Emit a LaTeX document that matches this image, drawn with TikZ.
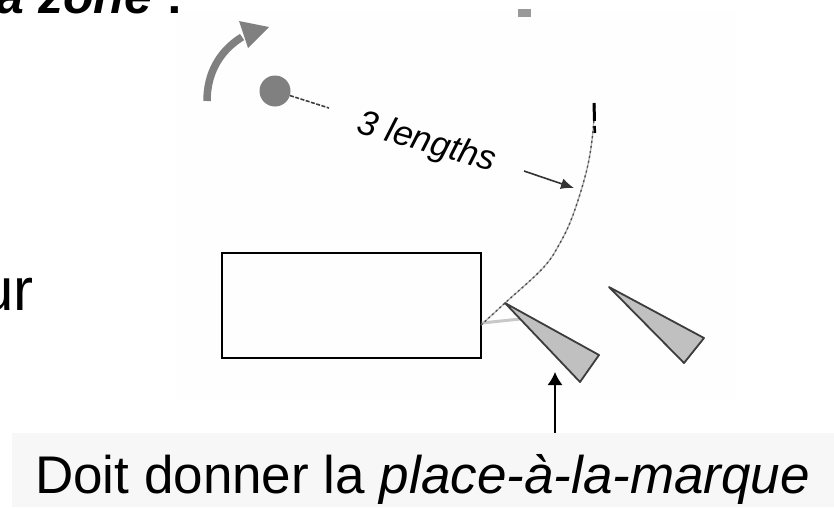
\documentclass[tikz,border=0pt]{standalone}
\usepackage{fontspec}
\setmainfont{Liberation Sans}
\usetikzlibrary{arrows.meta}
\definecolor{bgimg}{HTML}{FEFEFE}
\definecolor{bglabel}{HTML}{F7F7F7}
\definecolor{midgray}{HTML}{808080}
\definecolor{trifill}{HTML}{C0C0C0}
\definecolor{triedge}{HTML}{3C3C3C}
\definecolor{lightline}{HTML}{C8C8C8}
\tikzset{
  wedge/.style={fill=trifill, draw=triedge, line width=1.8pt, line join=round},
  bigtext/.style={inner sep=0pt, font=\fontsize{53}{60}\selectfont},
  bullettext/.style={inner sep=0pt, font=\fontsize{60}{66}\selectfont},
  headtext/.style={inner sep=0pt, font=\fontsize{50}{56}\selectfont},
  pointer/.style={-{Latex[length=13pt,width=15pt]}, line width=1.5pt, black},
}
\begin{document}
\begin{tikzpicture}[x=1pt,y=-1pt]
\useasboundingbox (0,0) rectangle (834,507);
\clip (0,0) rectangle (834,507);
% image area
\fill[bgimg] (177,10) rectangle (737,401);
% label band
\fill[bglabel] (12,433) rectangle (834,507);

% left column text fragments
\node[headtext, anchor=base east] (zone) at (183,13) {\textbf{\textit{a zone} :}};
\node[bullettext, anchor=base east] (ur) at (34,310) {ur};

% curved gray arrow
\draw[midgray, line width=7.5pt] (207,101) .. controls (207,75) and (218,52) .. (242,37);
\fill[midgray] (239,21) -- (269,27) -- (248,48) -- cycle;

% center dot
\node[circle, fill=midgray, minimum size=31pt, inner sep=0pt] (dot) at (275,91) {};
\draw[black!75, line width=1.6pt, dash pattern=on 4pt off 1.5pt] (dot.-17) -- (329,108);

% small gray mark at top
\fill[gray!80] (518,9) rectangle (531,17);

% "3 lengths"
\node[inner sep=0pt, anchor=base, rotate=-16, font=\fontsize{35}{40}\selectfont\itshape] (len) at (424,152) {3 lengths};
\coordinate (la) at (524,171);
\coordinate (lb) at (574,188);
\draw[black!80, line width=1.6pt, -{Latex[length=13pt,width=11pt]}] (la) -- (lb);

% rectangle
\node[draw=black, line width=1.4pt, minimum width=259pt, minimum height=105pt, inner sep=0pt] (box) at (351.5,305.5) {};

% light rope line
\draw[lightline, line width=3pt] (box.east |- 0,323) -- (520,319);

% arc
\draw[gray!60, line width=1.3pt] plot[smooth, tension=0.6] coordinates {(481,325) (505,303) (543,268) (560,243) (573,215) (586,173) (592,140) (595,104)};
\draw[black!70, line width=1.3pt, dash pattern=on 2pt off 3pt] plot[smooth, tension=0.6] coordinates {(481,325) (505,303) (543,268) (560,243) (573,215) (586,173) (592,140) (595,104)};
\draw[black, line width=3pt] (594,103) -- (594.5,121);
\draw[black, line width=2.5pt] (594.5,126) -- (595,133);

% wedges
\draw[wedge] (505,303) -- (599,355) -- (580,382) -- cycle;
\draw[wedge] (609,287) -- (704,338) -- (684,363) -- cycle;

% pointer arrow and label
\node[bigtext, anchor=base west] (label) at (35,493) {Doit donner la \textit{place-à-la-marque}};
\coordinate (ptail) at (555,433);
\coordinate (phead) at (555,372);
\draw[pointer] (ptail) -- (phead);
\end{tikzpicture}
\end{document}
